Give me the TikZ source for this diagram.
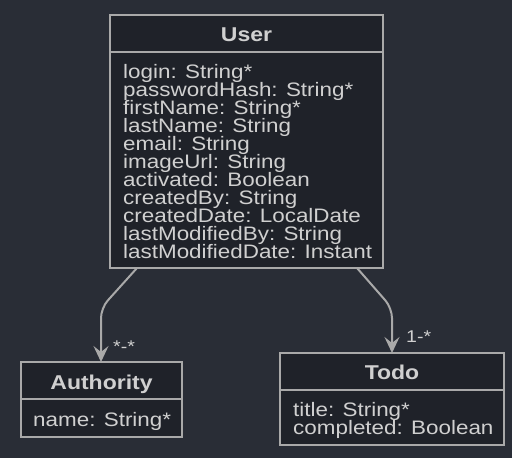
\documentclass[tikz,border=0pt]{standalone}
\usepackage{fontspec}
\setmainfont{Liberation Sans}[FakeStretch=1.15]
\usetikzlibrary{arrows.meta}
\definecolor{bg}{HTML}{292D36}
\definecolor{boxfill}{HTML}{1F2229}
\definecolor{edge}{HTML}{A9A9A9}
\definecolor{txt}{HTML}{D0D0D0}
\newcommand{\attrfont}{\fontsize{19.5}{18}\selectfont\lineskiplimit=-20pt\relax\lineskip=0pt\relax}
\begin{document}
\begin{tikzpicture}[x=1pt,y=-1pt,
 classbox/.style={draw=edge, line width=2pt, fill=boxfill, inner sep=0pt, outer sep=0pt},
 sepline/.style={draw=edge, line width=2pt},
 title/.style={text=txt, font=\fontsize{20}{20}\selectfont\bfseries, inner sep=0pt, anchor=base},
 attrs/.style={text=txt, font=\attrfont, align=left, inner sep=0pt, anchor=north west},
 assoc/.style={draw=edge, line width=2pt, rounded corners=10pt, -{Stealth[length=16pt,width=15pt,inset=6pt]}},
 mult/.style={text=txt, font=\fontsize{17}{17}\selectfont, inner sep=0pt, anchor=base west}]
\fill[bg] (0,0) rectangle (512,458);
\useasboundingbox (0,0) rectangle (512,458);
% User
\node[classbox, minimum width=273pt, minimum height=253pt] (user) at (246.5,141.5) {};
\draw[sepline] (user.west |- 0,52) -- (user.east |- 0,52);
\node[title] (usertitle) at (246.5,41.7) {User};
\node[attrs] (userattrs) at (123,64) {login: String*\\passwordHash: String*\\firstName: String*\\lastName: String\\email: String\\imageUrl: String\\activated: Boolean\\createdBy: String\\createdDate: LocalDate\\lastModifiedBy: String\\lastModifiedDate: Instant};
% Authority
\node[classbox, minimum width=161pt, minimum height=75pt] (authority) at (101.5,399.5) {};
\draw[sepline] (authority.west |- 0,399) -- (authority.east |- 0,399);
\node[title] (authtitle) at (101.5,389) {Authority};
\node[attrs] (authattrs) at (33,411.8) {name: String*};
% Todo
\node[classbox, minimum width=224pt, minimum height=92pt] (todo) at (392,399) {};
\draw[sepline] (todo.west |- 0,390) -- (todo.east |- 0,390);
\node[title] (todotitle) at (392,379) {Todo};
\node[attrs] (todoattrs) at (293,402) {title: String*\\completed: Boolean};
% connectors
\draw[assoc] (137,0 |- user.south) -- (101,308) -- (authority.north -| 101,0);
\draw[assoc] (357,0 |- user.south) -- (392,308) -- (todo.north);
\node[mult] (m1) at (113,352) {*-*};
\node[mult] (m2) at (406,342) {1-*};
\end{tikzpicture}
\end{document}
